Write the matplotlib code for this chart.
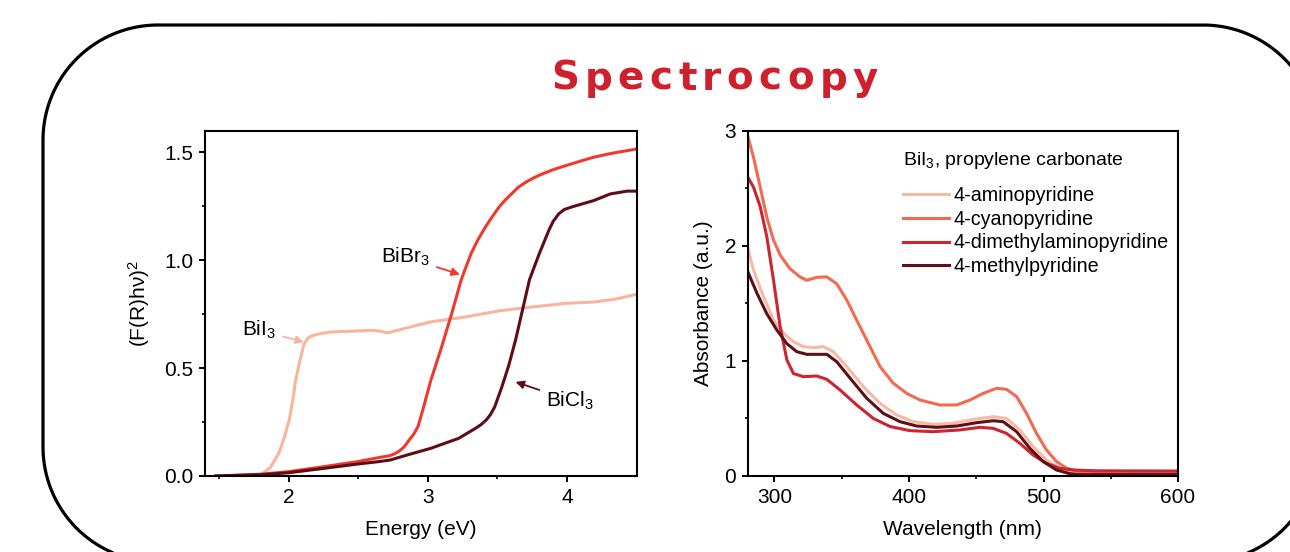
import numpy as np
import matplotlib
matplotlib.use("Agg")
import matplotlib.pyplot as plt
from matplotlib.path import Path
from matplotlib.patches import PathPatch


plt.rcParams['font.family'] = ['Liberation Sans', 'DejaVu Sans']
plt.rcParams['mathtext.fontset'] = 'custom'
plt.rcParams['mathtext.rm'] = 'Liberation Sans'
plt.rcParams['mathtext.it'] = 'Liberation Sans:italic'
plt.rcParams['mathtext.default'] = 'regular'

TITLE = "Spectrocopy"

# ---- left panel: (F(R)hv)^2 vs energy
bii3_x  = [1.48, 1.70, 1.81, 1.87, 1.93, 1.97, 2.005, 2.03, 2.05, 2.08, 2.11, 2.14, 2.17, 2.23, 2.30, 2.40, 2.49, 2.59, 2.65, 2.71, 2.80, 2.90, 3.02, 3.15, 3.27, 3.40, 3.51, 3.70, 3.85, 3.99, 4.19, 4.35, 4.50]
bii3_y  = [0.000, 0.003, 0.010, 0.040, 0.105, 0.180, 0.260, 0.350, 0.440, 0.530, 0.610, 0.640, 0.650, 0.660, 0.667, 0.670, 0.672, 0.675, 0.672, 0.663, 0.678, 0.695, 0.714, 0.726, 0.737, 0.752, 0.765, 0.780, 0.790, 0.800, 0.806, 0.820, 0.842]
bibr3_x = [1.48, 1.80, 2.00, 2.25, 2.49, 2.68, 2.72, 2.76, 2.80, 2.83, 2.87, 2.90, 2.93, 2.97, 3.02, 3.06, 3.10, 3.17, 3.24, 3.31, 3.36, 3.41, 3.45, 3.51, 3.55, 3.60, 3.65, 3.70, 3.75, 3.80, 3.85, 3.92, 3.99, 4.10, 4.19, 4.28, 4.36, 4.50]
bibr3_y = [0.000, 0.008, 0.020, 0.043, 0.066, 0.089, 0.093, 0.102, 0.118, 0.135, 0.170, 0.195, 0.230, 0.320, 0.440, 0.520, 0.600, 0.750, 0.910, 1.030, 1.095, 1.150, 1.190, 1.245, 1.275, 1.307, 1.338, 1.360, 1.378, 1.394, 1.407, 1.424, 1.438, 1.460, 1.477, 1.490, 1.500, 1.515]
bicl3_x = [1.48, 1.80, 2.00, 2.25, 2.49, 2.64, 2.73, 2.85, 3.02, 3.22, 3.34, 3.38, 3.42, 3.45, 3.48, 3.53, 3.58, 3.63, 3.68, 3.73, 3.80, 3.87, 3.90, 3.94, 3.98, 4.04, 4.19, 4.31, 4.43, 4.50]
bicl3_y = [0.000, 0.006, 0.015, 0.035, 0.055, 0.066, 0.074, 0.097, 0.128, 0.174, 0.220, 0.237, 0.260, 0.285, 0.320, 0.410, 0.510, 0.630, 0.770, 0.910, 1.030, 1.140, 1.180, 1.215, 1.235, 1.248, 1.276, 1.307, 1.320, 1.320]

# ---- right panel: absorbance vs wavelength
wl_amino  = [280, 284.4, 291.8, 299.3, 306.7, 314.1, 321.5, 329, 336.4, 343.8, 353.7, 366.1, 378.5, 390.8, 403.2, 418.1, 432.9, 447.8, 462.6, 472.5, 482.4, 492.3, 502.2, 512.1, 522, 539.4, 600]
abs_amino = [1.99, 1.79, 1.56, 1.355, 1.24, 1.167, 1.124, 1.115, 1.124, 1.08, 0.95, 0.776, 0.631, 0.53, 0.472, 0.449, 0.458, 0.492, 0.515, 0.50, 0.40, 0.255, 0.139, 0.067, 0.038, 0.025, 0.023]
wl_cyano  = [280, 284.4, 289.4, 294.3, 299.3, 304.2, 311.6, 319, 324, 331.4, 338.9, 346.3, 353.7, 361.1, 368.6, 378.5, 388.4, 398.3, 408.2, 423, 435.4, 445.3, 455.2, 465.1, 472.5, 480, 487.4, 494.8, 502.2, 509.7, 517.1, 527, 551.7, 600]
abs_cyano = [2.96, 2.77, 2.51, 2.25, 2.05, 1.92, 1.80, 1.73, 1.70, 1.726, 1.73, 1.67, 1.53, 1.355, 1.18, 0.95, 0.805, 0.718, 0.66, 0.617, 0.617, 0.66, 0.718, 0.762, 0.753, 0.69, 0.544, 0.37, 0.226, 0.125, 0.067, 0.038, 0.029, 0.028]
wl_dmap   = [280, 284.4, 289.4, 294.3, 299.3, 304.2, 309.2, 314.1, 321.5, 331.4, 338.9, 348.8, 361.1, 373.5, 385.9, 400.7, 418.1, 437.9, 452.7, 462.6, 472.5, 482.4, 492.3, 502.2, 512.1, 522, 539.4, 600]
abs_dmap  = [2.60, 2.51, 2.34, 2.08, 1.70, 1.30, 1.01, 0.89, 0.863, 0.869, 0.84, 0.747, 0.617, 0.50, 0.43, 0.394, 0.385, 0.40, 0.423, 0.414, 0.37, 0.284, 0.182, 0.11, 0.067, 0.052, 0.045, 0.043]
wl_methyl  = [280, 286.9, 294.3, 301.7, 309.2, 316.6, 324, 331.4, 338.9, 346.3, 356.2, 368.6, 380.9, 393.3, 405.7, 420.5, 435.4, 450.2, 462.6, 470, 480, 489.9, 499.8, 509.7, 519.6, 527, 551.7, 600]
abs_methyl = [1.78, 1.59, 1.41, 1.27, 1.15, 1.08, 1.057, 1.057, 1.057, 0.993, 0.85, 0.675, 0.544, 0.472, 0.434, 0.423, 0.434, 0.463, 0.48, 0.472, 0.385, 0.24, 0.125, 0.052, 0.02, 0.012, 0.012, 0.012]

series_right = [
    ("4-aminopyridine",            wl_amino,  abs_amino,  "#f7b9a3"),
    ("4-cyanopyridine",            wl_cyano,  abs_cyano,  "#f26a4f"),
    ("4-dimethylaminopyridine",    wl_dmap,   abs_dmap,   "#cc2430"),
    ("4-methylpyridine",           wl_methyl, abs_methyl, "#5e0f18"),
]

C_I, C_BR, C_CL = "#f8b49c", "#ee3a2c", "#5e0d17"
TITLE_COLOR = "#cf202e"
W, H = 1290, 552


def style_axes(ax):
    for s in ax.spines.values():
        s.set_linewidth(1.5)
    ax.tick_params(which='major', direction='out', length=4.3, width=1.4, labelsize=15, pad=4)
    ax.tick_params(which='minor', direction='out', length=2.5, width=1.2)


def rounded_frame(x0, y0, x1, y1, r):
    ## pixel-space rounded rectangle made of true circular arcs (y grows downward)
    def arc(cx, cy, a0, a1):
        t = np.radians(np.linspace(a0, a1, 40))
        return list(zip(cx + r * np.cos(t), cy - r * np.sin(t)))
    pts  = arc(x0 + r, y0 + r, 180, 90)          ## top-left
    pts += arc(x1 - r, y0 + r, 90, 0)            ## top-right
    pts += arc(x1 - r, y1 - r, 0, -90)           ## bottom-right
    pts += arc(x0 + r, y1 - r, -90, -180)        ## bottom-left
    pts.append(pts[0])
    return Path(pts)


fig = plt.figure(figsize=(W / 100, H / 100), dpi=100)

# rounded frame on a full-figure overlay
bg = fig.add_axes([0, 0, 1, 1], zorder=-1)
bg.set_xlim(0, W); bg.set_ylim(H, 0); bg.axis('off')
bg.add_patch(PathPatch(rounded_frame(43, 25, 1318, 562, 115), fill=False, lw=2.3, ec='black', clip_on=False))

# title with wide letter spacing
renderer = fig.canvas.get_renderer()
chars = [fig.text(0, 0, c, fontsize=28, fontweight='bold', color=TITLE_COLOR,
                  family='DejaVu Sans', transform=None) for c in TITLE]
widths = [t.get_window_extent(renderer).width for t in chars]
x_left, x_right = 551, 878
gap = (x_right - x_left - sum(widths)) / (len(chars) - 1)
xpos = x_left
for t, w in zip(chars, widths):
    t.set_position((xpos, H - 90))
    xpos += w + gap

# left panel
ax1 = fig.add_axes([0.1589, 0.1377, 0.3347, 0.6255])
ax1.plot(bii3_x, bii3_y, color=C_I, lw=2.2, solid_joinstyle='round')
ax1.plot(bibr3_x, bibr3_y, color=C_BR, lw=2.2, solid_joinstyle='round')
ax1.plot(bicl3_x, bicl3_y, color=C_CL, lw=2.2, solid_joinstyle='round')
ax1.set_xlim(1.4, 4.5); ax1.set_ylim(0, 1.6)
ax1.set_xticks([2, 3, 4]); ax1.set_xticks([1.5, 2.5, 3.5], minor=True)
ax1.set_yticks([0, 0.5, 1.0, 1.5]); ax1.set_yticks([0.25, 0.75, 1.25], minor=True)
ax1.set_yticklabels(["0.0", "0.5", "1.0", "1.5"])
ax1.set_xlabel("Energy (eV)", fontsize=15, labelpad=10)
ax1.set_ylabel("(F(R)hν)$^2$", fontsize=15, labelpad=9)
style_axes(ax1)

arrow = dict(arrowstyle='-|>', lw=1.3, mutation_scale=12, shrinkA=3, shrinkB=0)
ax1.annotate("BiI$_3$", xy=(2.11, 0.621), xytext=(1.79, 0.675), fontsize=15, ha='center', va='center',
             arrowprops=dict(arrow, color=C_I))
ax1.annotate("BiBr$_3$", xy=(3.23, 0.934), xytext=(2.84, 1.014), fontsize=15, ha='center', va='center',
             arrowprops=dict(arrow, color=C_BR))
ax1.annotate("BiCl$_3$", xy=(3.63, 0.436), xytext=(4.02, 0.35), fontsize=15, ha='center', va='center',
             arrowprops=dict(arrow, color=C_CL))

# right panel
ax2 = fig.add_axes([0.5795, 0.1377, 0.3337, 0.6255])
for name, wl, ab, col in series_right:
    ax2.plot(wl, ab, color=col, lw=2.2, label=name, solid_joinstyle='round')
ax2.set_xlim(280, 600); ax2.set_ylim(0, 3)
ax2.set_xticks([300, 400, 500, 600]); ax2.set_xticks([350, 450, 550], minor=True)
ax2.set_yticks([0, 1, 2, 3]); ax2.set_yticks([0.5, 1.5, 2.5], minor=True)
ax2.set_xlabel("Wavelength (nm)", fontsize=15, labelpad=10)
ax2.set_ylabel("Absorbance (a.u.)", fontsize=15, labelpad=8)
style_axes(ax2)
leg = ax2.legend(loc='upper left', bbox_to_anchor=(0.361, 0.945), frameon=False, fontsize=14.2,
                 title="BiI$_3$, propylene carbonate", title_fontsize=14, alignment='left',
                 handlelength=2.33, handletextpad=0.22, labelspacing=0.24, borderpad=0, borderaxespad=0)
leg._legend_box.sep = 11

fig.savefig("out.png", dpi=100)
